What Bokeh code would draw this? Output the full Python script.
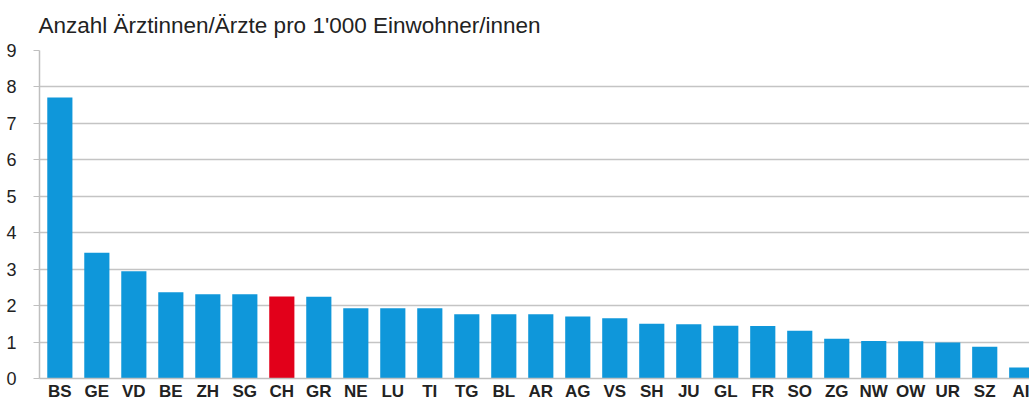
from bokeh.plotting import figure
from bokeh.models import Range1d, FixedTicker, ColumnDataSource
from bokeh.embed import file_html
from bokeh.resources import INLINE

# Data
cantons = ["BS", "GE", "VD", "BE", "ZH", "SG", "CH", "GR", "NE", "LU", "TI", "TG", "BL", "AR",
           "AG", "VS", "SH", "JU", "GL", "FR", "SO", "ZG", "NW", "OW", "UR", "SZ", "AI"]
aerzte = [7.71, 3.45, 2.94, 2.37, 2.31, 2.31, 2.25, 2.24, 1.93, 1.93, 1.93, 1.76, 1.76, 1.76,
          1.70, 1.65, 1.50, 1.49, 1.45, 1.44, 1.31, 1.09, 1.03, 1.02, 0.99, 0.87, 0.30]
y_ticks = [0, 1, 2, 3, 4, 5, 6, 7, 8, 9]
title_text = "Anzahl Ärztinnen/Ärzte pro 1'000 Einwohner/innen"

BLUE = "#0F97DA"
RED = "#E2001A"
colors = [RED if c == "CH" else BLUE for c in cantons]
xs = list(range(len(cantons)))

src = ColumnDataSource(dict(x=xs, top=aerzte, color=colors))

p = figure(width=1029, height=403, output_backend="svg", toolbar_location=None,
           x_range=Range1d(-0.55, 26.21), y_range=Range1d(0, 9),
           min_border_left=39, min_border_right=0, min_border_top=50, min_border_bottom=0)
p.outline_line_color = None
p.background_fill_color = "white"
p.border_fill_color = "white"

p.title.text = title_text
p.title.text_font = "Liberation Sans"
p.title.text_font_size = "22.5px"
p.title.text_font_style = "normal"
p.title.text_color = "#222222"
p.title.align = "left"
p.title.vertical_align = "top"
p.title.offset = -1
p.title.standoff = 21

p.vbar(x="x", top="top", width=0.68, bottom=0, fill_color="color", line_color=None, source=src)

# Y axis
p.yaxis.ticker = FixedTicker(ticks=y_ticks)
p.yaxis.axis_line_color = "#BFBFBF"
p.yaxis.axis_line_width = 1.5
p.yaxis.major_tick_line_color = "#BFBFBF"
p.yaxis.major_tick_out = 6
p.yaxis.major_tick_in = 0
p.yaxis.minor_tick_line_color = None
p.yaxis.major_label_standoff = 17
p.yaxis.major_label_text_font = "Liberation Sans"
p.yaxis.major_label_text_font_size = "18px"
p.yaxis.major_label_text_color = "#222222"

# X axis
p.xaxis.ticker = FixedTicker(ticks=xs)
p.xaxis.major_label_overrides = {i: c for i, c in enumerate(cantons)}
p.xaxis.axis_line_color = "#BFBFBF"
p.xaxis.axis_line_width = 1.5
p.xaxis.major_tick_line_color = None
p.xaxis.major_tick_out = 0
p.xaxis.major_tick_in = 0
p.xaxis.minor_tick_line_color = None
p.xaxis.major_label_standoff = 3
p.xaxis.major_label_text_font = "Liberation Sans"
p.xaxis.major_label_text_font_size = "17px"
p.xaxis.major_label_text_font_style = "bold"
p.xaxis.major_label_text_color = "#222222"

p.xgrid.grid_line_color = None
p.ygrid.ticker = FixedTicker(ticks=y_ticks)
p.ygrid.grid_line_color = "#C4C4C4"
p.ygrid.grid_line_width = 1.5

open("out.html", "w").write(file_html(p, INLINE))
